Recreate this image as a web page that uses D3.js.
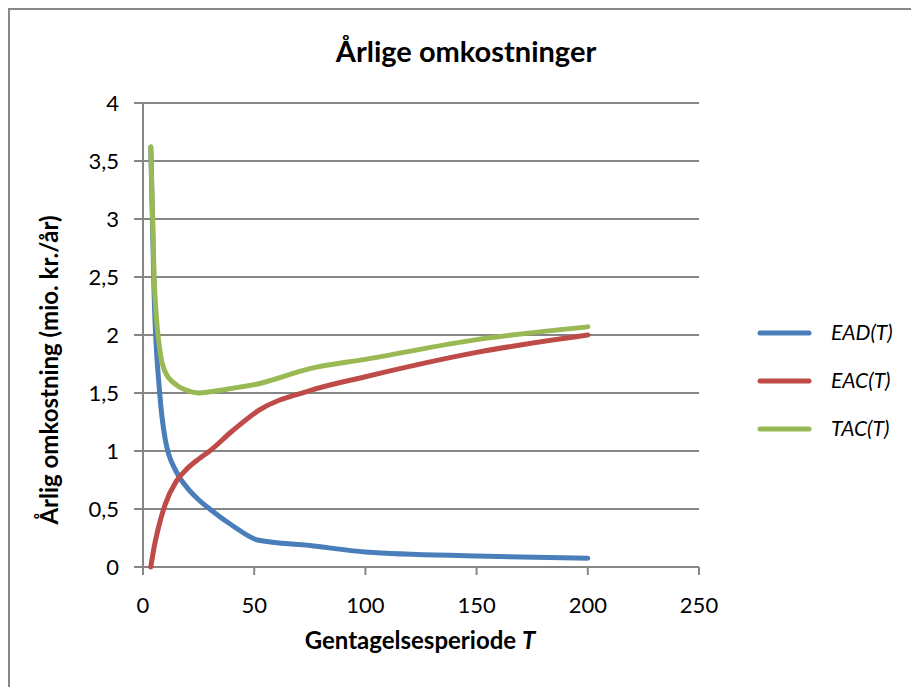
<!DOCTYPE html>
<html>
<head>
<meta charset="utf-8">
<script src="https://cdn.jsdelivr.net/npm/d3@7"></script>
<style>
  html, body { margin: 0; padding: 0; background: #fff; }
  svg { display: block; font-family: Lato, "Open Sans", sans-serif; }
</style>
</head>
<body>
<svg id="chart" width="911" height="687"></svg>
<script>
// ---- Data ----
const periods = [3.5, 5, 7.5, 10, 15, 20, 25, 30, 40, 52, 75, 100, 150, 200];
const eadValues = [3.62, 2.35, 1.5, 1.1, 0.82, 0.68, 0.58, 0.5, 0.36, 0.23, 0.185, 0.13, 0.095, 0.075];
const eacValues = [0, 0.17, 0.38, 0.54, 0.74, 0.85, 0.93, 1.0, 1.17, 1.35, 1.52, 1.64, 1.85, 2.0];
const tacValues = [3.62, 2.5, 1.88, 1.68, 1.57, 1.52, 1.5, 1.51, 1.54, 1.58, 1.71, 1.79, 1.96, 2.07];
const seriesNames = ["EAD", "EAC", "TAC"];
const seriesColors = ["#4a7ebb", "#be4b48", "#98b954"];
const xTicks = [0, 50, 100, 150, 200, 250];
const yTicks = [0, 0.5, 1, 1.5, 2, 2.5, 3, 3.5, 4];
const titleText = "Årlige omkostninger";
const xTitle = "Gentagelsesperiode ";
const yTitle = "Årlig omkostning (mio. kr./år)";

const series = [eadValues, eacValues, tacValues].map((vals, i) => ({
  name: seriesNames[i], color: seriesColors[i],
  points: periods.map((t, j) => ({ t, v: vals[j] }))
}));

const svg = d3.select("#chart");

// outer chart border
svg.append("rect").attr("x", 9).attr("y", 9).attr("width", 960).attr("height", 760)
  .attr("fill", "#fff").attr("stroke", "#878787").attr("stroke-width", 2);

const x = d3.scaleLinear().domain([0, 250]).range([143, 699]);
const y = d3.scaleLinear().domain([0, 4]).range([567, 103]);

// gridlines
svg.append("g").selectAll("line").data(yTicks).join("line")
  .attr("x1", 134).attr("x2", x(250))
  .attr("y1", d => y(d)).attr("y2", d => y(d))
  .attr("stroke", "#868686").attr("stroke-width", 2);

// y axis line
svg.append("line").attr("x1", x(0)).attr("x2", x(0))
  .attr("y1", y(4)).attr("y2", y(0) + 8)
  .attr("stroke", "#868686").attr("stroke-width", 2);

// x axis ticks
svg.append("g").selectAll("line").data(xTicks).join("line")
  .attr("x1", d => x(d)).attr("x2", d => x(d))
  .attr("y1", y(0)).attr("y2", y(0) + 8)
  .attr("stroke", "#868686").attr("stroke-width", 2);

const fmt = d => String(d).replace(".", ",");

// y tick labels
svg.append("g").selectAll("text").data(yTicks).join("text")
  .attr("x", 119).attr("y", d => y(d)).attr("dy", "0.35em")
  .attr("text-anchor", "end").attr("font-size", 22).attr("fill", "#000")
  .text(fmt);

// x tick labels
svg.append("g").selectAll("text").data(xTicks).join("text")
  .attr("x", d => x(d)).attr("y", 605).attr("dy", "0.35em")
  .attr("text-anchor", "middle").attr("font-size", 22).attr("fill", "#000")
  .text(fmt);

// lines
const line = d3.line().x(d => x(d.t)).y(d => y(d.v)).curve(d3.curveMonotoneX);
svg.append("g").selectAll("path").data(series).join("path")
  .attr("d", d => line(d.points))
  .attr("fill", "none").attr("stroke", d => d.color)
  .attr("stroke-width", 5).attr("stroke-linecap", "round").attr("stroke-linejoin", "round");

// title
svg.append("text").attr("x", 466).attr("y", 52).attr("dy", "0.35em")
  .attr("text-anchor", "middle").attr("font-size", 29).attr("font-weight", "bold")
  .text(titleText);

// x axis title
const xt = svg.append("text").attr("x", 420).attr("y", 641).attr("dy", "0.35em")
  .attr("text-anchor", "middle").attr("font-size", 24).attr("font-weight", "bold");
xt.append("tspan").text(xTitle);
xt.append("tspan").attr("font-style", "italic").text("T");

// y axis title
svg.append("text")
  .attr("transform", `translate(50, 370) rotate(-90)`)
  .attr("dy", "0.35em").attr("text-anchor", "middle")
  .attr("font-size", 24).attr("font-weight", "bold")
  .text(yTitle);

// legend
const legendY = [333, 381, 429];
const lg = svg.append("g").selectAll("g").data(series).join("g")
  .attr("transform", (d, i) => `translate(0, ${legendY[i]})`);
lg.append("line").attr("x1", 760).attr("x2", 809).attr("y1", 0).attr("y2", 0)
  .attr("stroke", d => d.color).attr("stroke-width", 5).attr("stroke-linecap", "round");
const lt = lg.append("text").attr("x", 831).attr("y", 0).attr("dy", "0.35em")
  .attr("font-size", 21).attr("font-style", "italic");
lt.append("tspan").text(d => d.name + "(");
lt.append("tspan").text("T");
lt.append("tspan").text(")");
</script>
</body>
</html>
